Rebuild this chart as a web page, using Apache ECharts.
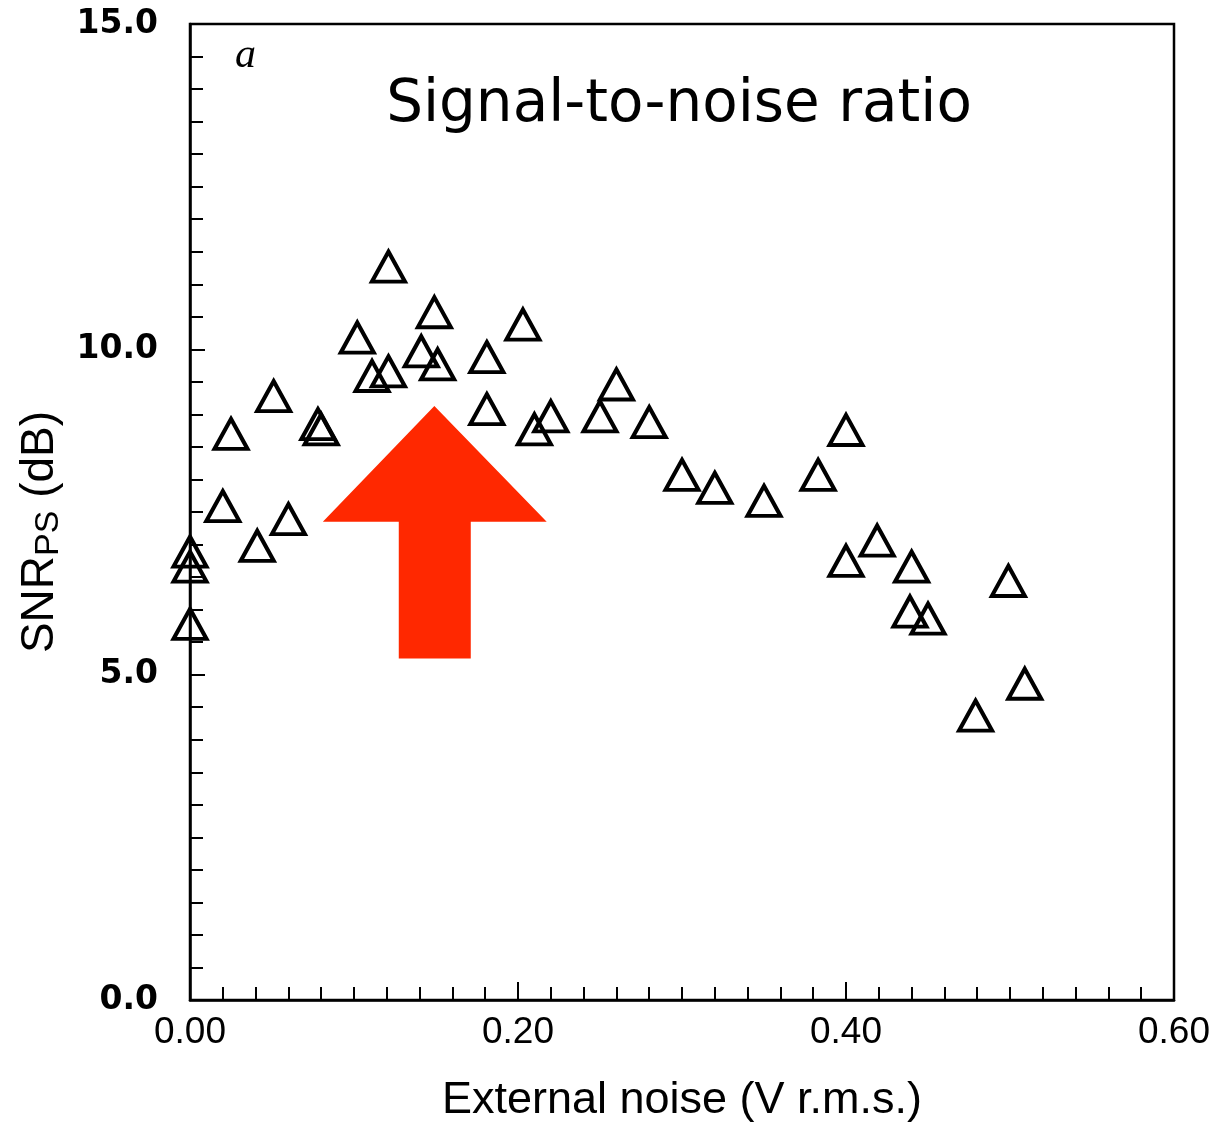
<!DOCTYPE html>
<html>
<head>
<meta charset="utf-8">
<script src="https://cdn.jsdelivr.net/npm/echarts@6/dist/echarts.min.js"></script>
<style>
  html, body { margin: 0; padding: 0; background: #fff; }
  #container { width: 1220px; height: 1128px; }
</style>
</head>
<body>
<div id="container"></div>
<script>
// external noise (V r.m.s.) and SNR_PS (dB)
const noiseValues = [0.0, 0.0, 0.0, 0.020, 0.025, 0.041, 0.051, 0.060, 0.078, 0.080,
    0.102, 0.111, 0.121, 0.121, 0.141, 0.149, 0.151, 0.181, 0.181, 0.203,
    0.210, 0.220, 0.250, 0.260, 0.280, 0.300, 0.320, 0.350, 0.383, 0.400,
    0.400, 0.419, 0.439, 0.440, 0.450, 0.479, 0.499, 0.509];
const snrValues = [5.78, 6.66, 6.89, 7.59, 8.70, 6.98, 9.28, 7.39, 8.85, 8.77,
    10.18, 9.59, 11.27, 9.66, 9.97, 10.57, 9.77, 9.88, 9.08, 10.38,
    8.77, 8.97, 8.97, 9.46, 8.88, 8.07, 7.87, 7.67, 8.07, 8.76,
    6.75, 7.06, 5.97, 6.66, 5.86, 4.37, 6.44, 4.86];

const xTicks = [0, 0.2, 0.4, 0.6];
const yTicks = [0, 5, 10, 15];

// red arrow annotation, outline in data units (x, dB)
const arrowOutline = [
    [0.149, 9.13], [0.2175, 7.35], [0.1712, 7.35], [0.1712, 5.25],
    [0.1273, 5.25], [0.1273, 7.35], [0.081, 7.35]
];

const points = noiseValues.map((x, i) => [x, snrValues[i]]);

const myChart = echarts.init(document.getElementById('container'));

const option = {
    backgroundColor: '#fff',
    animation: false,
    grid: {
        left: 190, right: 46, top: 24, bottom: 126,
        show: true,
        borderColor: '#000',
        borderWidth: 2.5,
        backgroundColor: 'transparent'
    },
    title: [
        {
            text: 'Signal-to-noise ratio',
            left: 674, top: 72,
            textAlign: 'center',
            textStyle: { fontFamily: 'DejaVu Sans', fontWeight: 'normal', fontSize: 58, color: '#000' }
        },
        {
            text: 'a',
            left: 230, top: 30,
            textStyle: { fontFamily: 'Liberation Serif', fontStyle: 'italic', fontWeight: 'normal', fontSize: 42, color: '#000' }
        }
    ],
    xAxis: {
        type: 'value',
        min: xTicks[0],
        max: xTicks[xTicks.length - 1],
        interval: 0.2,
        name: 'External noise (V r.m.s.)',
        nameLocation: 'middle',
        nameGap: 78,
        nameTextStyle: { fontFamily: 'Liberation Sans', fontSize: 45, color: '#000' },
        axisLine: { lineStyle: { color: '#000', width: 2.5 } },
        axisTick: { inside: true, length: 18, lineStyle: { color: '#000', width: 2 } },
        minorTick: { show: true, splitNumber: 10, length: 13, lineStyle: { color: '#000', width: 2 } },
        splitLine: { show: false },
        axisLabel: {
            margin: 14,
            fontFamily: 'Liberation Sans',
            fontSize: 37,
            color: '#000',
            formatter: v => v.toFixed(2)
        }
    },
    yAxis: {
        type: 'value',
        min: yTicks[0],
        max: yTicks[yTicks.length - 1],
        interval: 5,
        name: '{m|SNR}{s|PS}{m| (dB)}',
        nameLocation: 'middle',
        nameGap: 124,
        nameTextStyle: {
            color: '#000',
            padding: [0, 40, 0, 0],
            rich: {
                m: { fontFamily: 'Liberation Sans', fontSize: 46, color: '#000' },
                s: { fontFamily: 'Liberation Sans', fontSize: 34, color: '#000', padding: [16, 0, 0, 0] }
            }
        },
        axisLine: { lineStyle: { color: '#000', width: 2.5 } },
        axisTick: { inside: true, length: 15, lineStyle: { color: '#000', width: 2 } },
        minorTick: { show: true, splitNumber: 10, length: 13, lineStyle: { color: '#000', width: 2 } },
        splitLine: { show: false },
        axisLabel: {
            margin: 32,
            fontFamily: 'DejaVu Sans',
            fontWeight: 'bold',
            fontSize: 33,
            color: '#000',
            formatter: v => v.toFixed(1)
        }
    },
    series: [
        {
            type: 'custom',
            silent: true,
            z: 1,
            data: [[0]],
            renderItem: (params, api) => ({
                type: 'polygon',
                shape: { points: arrowOutline.map(p => api.coord(p)) },
                style: { fill: '#ff2800' }
            })
        },
        {
            type: 'scatter',
            z: 3,
            symbol: 'triangle',
            symbolSize: [33, 30],
            itemStyle: { color: 'transparent', borderColor: '#000', borderWidth: 4, opacity: 1 },
            data: points
        }
    ]
};

myChart.setOption(option);
</script>
</body>
</html>
